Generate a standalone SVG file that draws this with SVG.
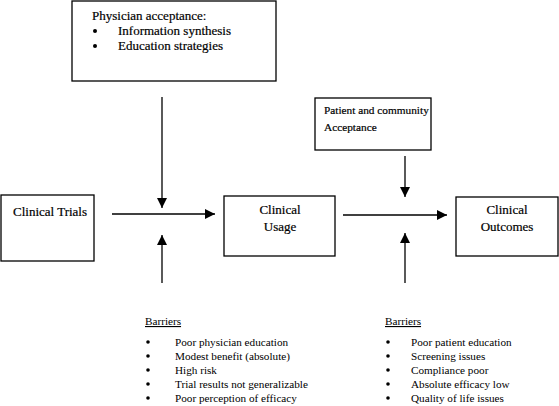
<svg xmlns="http://www.w3.org/2000/svg" width="559" height="406" viewBox="0 0 559 406">
<defs>
<marker id="ah" markerWidth="10" markerHeight="10" refX="10" refY="5" orient="auto" markerUnits="userSpaceOnUse">
<path d="M0,0 L10,5 L0,10 Z" fill="#000"/>
</marker>
<style>
.box{fill:#fff;stroke:#000;stroke-width:1.3}
.t{font-family:"Liberation Serif","Times New Roman",serif;font-size:13px;fill:#000;stroke:#000;stroke-width:0.2}
.p{font-size:11.3px}
.b{font-family:"Liberation Serif","Times New Roman",serif;font-size:11.2px;fill:#000}
.c{stroke:#000;stroke-width:1.3;fill:none;marker-end:url(#ah)}
</style>
</defs>
<rect width="559" height="406" fill="#fff"/>
<g id="connectors">
<line class="c" x1="162" y1="97" x2="162" y2="208"/>
<line class="c" x1="162" y1="283" x2="162" y2="235"/>
<line class="c" x1="112" y1="214" x2="215" y2="214"/>
<line class="c" x1="405" y1="156" x2="405" y2="197"/>
<line class="c" x1="405" y1="283" x2="405" y2="233"/>
<line class="c" x1="343" y1="215" x2="447" y2="215"/>
</g>
<g id="physician">
<rect class="box" x="72" y="1" width="204" height="80"/>
<text class="t" x="92" y="20">Physician acceptance:</text>
<circle cx="95" cy="31" r="2"/>
<text class="t" x="118" y="35">Information synthesis</text>
<circle cx="95" cy="46" r="2"/>
<text class="t" x="118" y="50">Education strategies</text>
</g>
<g id="patient">
<rect class="box" x="315" y="98" width="116" height="52"/>
<text class="t p" x="324" y="114">Patient and community</text>
<text class="t p" x="324" y="131">Acceptance</text>
</g>
<g id="trials">
<rect class="box" x="1" y="195" width="93" height="66"/>
<text class="t" x="13" y="216">Clinical Trials</text>
</g>
<g id="usage">
<rect class="box" x="224" y="196" width="111" height="60"/>
<text class="t" x="280" y="214" text-anchor="middle">Clinical</text>
<text class="t" x="280" y="231" text-anchor="middle">Usage</text>
</g>
<g id="outcomes">
<rect class="box" x="456" y="197" width="102" height="59"/>
<text class="t" x="507" y="214" text-anchor="middle">Clinical</text>
<text class="t" x="507" y="231" text-anchor="middle">Outcomes</text>
</g>
<g id="barriers-left">
<text class="b" x="145" y="325" text-decoration="underline">Barriers</text>
<circle cx="148" cy="342" r="1.8"/><text class="b" x="175" y="346">Poor physician education</text>
<circle cx="148" cy="356" r="1.8"/><text class="b" x="175" y="360">Modest benefit (absolute)</text>
<circle cx="148" cy="370" r="1.8"/><text class="b" x="175" y="374">High risk</text>
<circle cx="148" cy="384" r="1.8"/><text class="b" x="175" y="388">Trial results not generalizable</text>
<circle cx="148" cy="398" r="1.8"/><text class="b" x="175" y="402">Poor perception of efficacy</text>
</g>
<g id="barriers-right">
<text class="b" x="385" y="325" text-decoration="underline">Barriers</text>
<circle cx="388" cy="342" r="1.8"/><text class="b" x="411" y="346">Poor patient education</text>
<circle cx="388" cy="356" r="1.8"/><text class="b" x="411" y="360">Screening issues</text>
<circle cx="388" cy="370" r="1.8"/><text class="b" x="411" y="374">Compliance poor</text>
<circle cx="388" cy="384" r="1.8"/><text class="b" x="411" y="388">Absolute efficacy low</text>
<circle cx="388" cy="398" r="1.8"/><text class="b" x="411" y="402">Quality of life issues</text>
</g>
</svg>
